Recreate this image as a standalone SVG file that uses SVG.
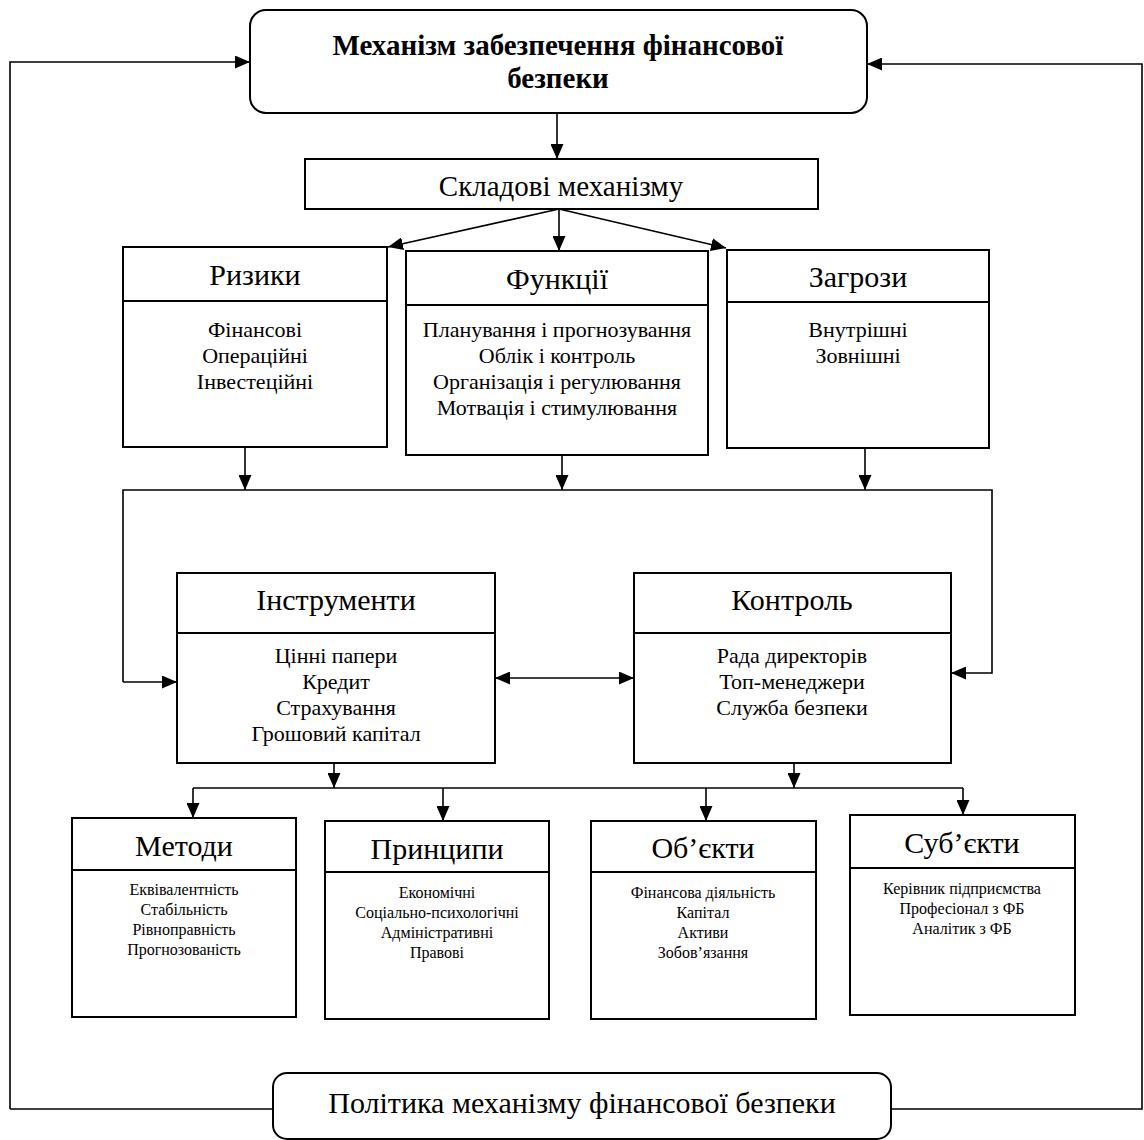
<svg xmlns="http://www.w3.org/2000/svg" width="1144" height="1140" viewBox="0 0 1144 1140">
<style>
.box{fill:#fff;stroke:#000;stroke-width:2}
.ln{fill:none;stroke:#000;stroke-width:1.6}
text{font-family:"Liberation Serif","Times New Roman",serif;fill:#000;text-anchor:middle}
.t{font-size:29px;font-weight:bold}
.k{font-size:29px}
.h{font-size:30px}
.b{font-size:22px}
.s{font-size:16px}
</style>
<defs>
<marker id="ah" viewBox="0 0 15 13" refX="15" refY="6.5" markerWidth="15" markerHeight="13" markerUnits="userSpaceOnUse" orient="auto-start-reverse">
<path d="M0,0 L15,6.5 L0,13 z" fill="#000"/>
</marker>
</defs>
<rect width="1144" height="1140" fill="#fff"/>
<g id="connectors">
<path class="ln" d="M10,1109 V62 H250" marker-end="url(#ah)"/>
<path class="ln" d="M891,1109 H1142 V64 H867" marker-end="url(#ah)"/>
<path class="ln" d="M10,1109 H273"/>
<path class="ln" d="M557,113 V159" marker-end="url(#ah)"/>
<path class="ln" d="M559,209 L388,247" marker-end="url(#ah)"/>
<path class="ln" d="M559,209 V251" marker-end="url(#ah)"/>
<path class="ln" d="M559,209 L726,248" marker-end="url(#ah)"/>
<path class="ln" d="M245,447 V490" marker-end="url(#ah)"/>
<path class="ln" d="M562,455 V490" marker-end="url(#ah)"/>
<path class="ln" d="M865,448 V490" marker-end="url(#ah)"/>
<path class="ln" d="M123,682 V490 H992 V673 H951" marker-end="url(#ah)"/>
<path class="ln" d="M123,682 H177" marker-end="url(#ah)"/>
<path class="ln" d="M495,678 H634" marker-start="url(#ah)" marker-end="url(#ah)"/>
<path class="ln" d="M334,763 V788" marker-end="url(#ah)"/>
<path class="ln" d="M794,763 V788" marker-end="url(#ah)"/>
<path class="ln" d="M193,788 H963"/>
<path class="ln" d="M193,788 V818" marker-end="url(#ah)"/>
<path class="ln" d="M443,788 V821" marker-end="url(#ah)"/>
<path class="ln" d="M706,788 V821" marker-end="url(#ah)"/>
<path class="ln" d="M963,788 V815" marker-end="url(#ah)"/>
</g>
<g id="n-mechanism">
<rect class="box" x="250" y="10" width="617" height="103" rx="16"/>
<text class="t" x="558" y="55">Механізм забезпечення фінансової</text>
<text class="t" x="558" y="88">безпеки</text>
</g>
<g id="n-skladovi">
<rect class="box" x="305" y="159" width="513" height="50"/>
<text class="k" x="561" y="196">Складові механізму</text>
</g>
<g id="n-ryzyky">
<rect class="box" x="123" y="247" width="264" height="200"/>
<line class="box" x1="123" y1="301" x2="387" y2="301"/>
<text class="h" x="255" y="285">Ризики</text>
<text class="b" x="255" y="337">Фінансові</text>
<text class="b" x="255" y="363">Операційні</text>
<text class="b" x="255" y="389">Інвестеційні</text>
</g>
<g id="n-funktsii">
<rect class="box" x="406" y="251" width="302" height="204"/>
<line class="box" x1="406" y1="305" x2="708" y2="305"/>
<text class="h" x="557" y="289">Функції</text>
<text class="b" x="557" y="337">Планування і прогнозування</text>
<text class="b" x="557" y="363">Облік і контроль</text>
<text class="b" x="557" y="389">Організація і регулювання</text>
<text class="b" x="557" y="415">Мотвація і стимулювання</text>
</g>
<g id="n-zahrozy">
<rect class="box" x="727" y="250" width="262" height="198"/>
<line class="box" x1="727" y1="302" x2="989" y2="302"/>
<text class="h" x="858" y="287">Загрози</text>
<text class="b" x="858" y="337">Внутрішні</text>
<text class="b" x="858" y="363">Зовнішні</text>
</g>
<g id="n-instrumenty">
<rect class="box" x="177" y="573" width="318" height="190"/>
<line class="box" x1="177" y1="633" x2="495" y2="633"/>
<text class="h" x="336" y="610">Інструменти</text>
<text class="b" x="336" y="663">Цінні папери</text>
<text class="b" x="336" y="689">Кредит</text>
<text class="b" x="336" y="715">Страхування</text>
<text class="b" x="336" y="741">Грошовий капітал</text>
</g>
<g id="n-kontrol">
<rect class="box" x="634" y="573" width="317" height="190"/>
<line class="box" x1="634" y1="633" x2="951" y2="633"/>
<text class="h" x="792" y="610">Контроль</text>
<text class="b" x="792" y="663">Рада директорів</text>
<text class="b" x="792" y="689">Топ-менеджери</text>
<text class="b" x="792" y="715">Служба безпеки</text>
</g>
<g id="n-metody">
<rect class="box" x="72" y="818" width="224" height="199"/>
<line class="box" x1="72" y1="870" x2="296" y2="870"/>
<text class="h" x="184" y="856">Методи</text>
<text class="s" x="184" y="895">Еквівалентність</text>
<text class="s" x="184" y="915">Стабільність</text>
<text class="s" x="184" y="935">Рівноправність</text>
<text class="s" x="184" y="955">Прогнозованість</text>
</g>
<g id="n-pryntsypy">
<rect class="box" x="325" y="821" width="224" height="198"/>
<line class="box" x1="325" y1="872" x2="549" y2="872"/>
<text class="h" x="437" y="859">Принципи</text>
<text class="s" x="437" y="898">Економічні</text>
<text class="s" x="437" y="918">Соціально-психологічні</text>
<text class="s" x="437" y="938">Адміністративні</text>
<text class="s" x="437" y="958">Правові</text>
</g>
<g id="n-obiekty">
<rect class="box" x="591" y="821" width="225" height="198"/>
<line class="box" x1="591" y1="872" x2="816" y2="872"/>
<text class="h" x="703" y="858">Об’єкти</text>
<text class="s" x="703" y="898">Фінансова діяльність</text>
<text class="s" x="703" y="918">Капітал</text>
<text class="s" x="703" y="938">Активи</text>
<text class="s" x="703" y="958">Зобов’язання</text>
</g>
<g id="n-subiekty">
<rect class="box" x="850" y="815" width="225" height="200"/>
<line class="box" x1="850" y1="868" x2="1075" y2="868"/>
<text class="h" x="962" y="853">Суб’єкти</text>
<text class="s" x="962" y="894">Керівник підприємства</text>
<text class="s" x="962" y="914">Професіонал з ФБ</text>
<text class="s" x="962" y="934">Аналітик з ФБ</text>
</g>
<g id="n-polityka">
<rect class="box" x="273" y="1073" width="618" height="66" rx="14"/>
<text class="h" x="582" y="1113">Політика механізму фінансової безпеки</text>
</g>
</svg>
